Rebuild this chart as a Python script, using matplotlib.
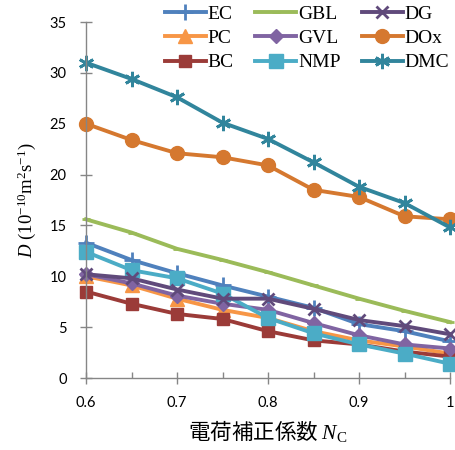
import matplotlib
matplotlib.use("Agg")
import matplotlib.pyplot as plt
from matplotlib.ticker import MultipleLocator, FixedLocator

plt.rcParams['mathtext.fontset'] = 'custom'
plt.rcParams['mathtext.rm'] = 'Liberation Serif'
plt.rcParams['mathtext.it'] = 'Liberation Serif:italic'

nc = [0.6, 0.65, 0.7, 0.75, 0.8, 0.85, 0.9, 0.95, 1.0]
names = ["EC", "PC", "BC", "GBL", "GVL", "NMP", "DG", "DOx", "DMC"]
EC  = [13.3, 11.6, 10.3, 9.1, 8.0, 6.9, 5.3, 4.6, 3.6]
PC  = [10.0, 9.1, 7.8, 6.7, 5.9, 4.6, 3.7, 3.1, 2.4]
BC  = [8.5, 7.3, 6.3, 5.8, 4.6, 3.7, 3.3, 2.6, 2.1]
GBL = [15.6, 14.3, 12.7, 11.6, 10.4, 9.1, 7.8, 6.6, 5.5]
GVL = [10.2, 9.3, 8.1, 7.3, 6.7, 5.4, 4.2, 3.3, 2.9]
NMP = [12.4, 10.6, 9.8, 8.3, 5.9, 4.4, 3.3, 2.4, 1.4]
DG  = [10.2, 9.8, 8.7, 7.8, 7.8, 6.8, 5.7, 5.1, 4.3]
DOx = [25.0, 23.4, 22.1, 21.7, 20.9, 18.5, 17.8, 15.9, 15.6]
DMC = [31.0, 29.4, 27.6, 25.1, 23.5, 21.2, 18.8, 17.2, 14.8]
series = [EC, PC, BC, GBL, GVL, NMP, DG, DOx, DMC]
xtick_labels = ["0.6", "0.7", "0.8", "0.9", "1"]

colors = ["#4F81BD", "#F79646", "#9B3B38", "#9BBB59", "#8064A2",
          "#4BACC6", "#604A7B", "#D5782F", "#31859C"]
markers = ["+", "^", "s", "_", "D", "s", "x", "o", (6, 2, 0)]
msizes = [11, 10, 9, 6, 7, 10, 9, 10, 11]

fig = plt.figure(figsize=(4.55, 4.5), dpi=100)
ax = fig.add_axes([86/455, 1-378/450, (450-86)/455, (378-22)/450])

for name, vals, c, m, ms in zip(names, series, colors, markers, msizes):
    mew = 2.0 if m in ("+", "x", (6, 2, 0), "_") else 1.0
    ax.plot(nc, vals, color=c, lw=2.8, marker=m, ms=ms, mew=mew,
            mec=c, mfc=c, label=name, clip_on=False)

ax.set_xlim(0.6, 1.0)
ax.set_ylim(0, 35)
ax.xaxis.set_major_locator(FixedLocator([0.6, 0.7, 0.8, 0.9, 1.0]))
ax.set_xticklabels(xtick_labels)
ax.xaxis.set_minor_locator(FixedLocator([0.65, 0.75, 0.85, 0.95]))
ax.yaxis.set_major_locator(MultipleLocator(5))

for s in ["top", "right"]:
    ax.spines[s].set_visible(False)
for s in ["left", "bottom"]:
    ax.spines[s].set_color("#868686")
    ax.spines[s].set_linewidth(1.0)

ax.tick_params(axis="x", which="major", direction="inout", length=8,
               color="#868686", width=1, pad=9, labelsize=10.5)
ax.tick_params(axis="x", which="minor", direction="in", length=4,
               color="#868686", width=1)
ax.tick_params(axis="y", which="major", direction="inout", length=8,
               color="#868686", width=1, pad=10, labelsize=10.5)
for lab in ax.get_xticklabels() + ax.get_yticklabels():
    lab.set_fontfamily("Lato")

ax.set_ylabel(r"$D$ (10$^{-10}$m$^{2}$s$^{-1}$)", fontfamily="Liberation Serif",
              fontsize=13.5, labelpad=8)
ax.set_xlabel(r"電荷補正係数 $N_{\mathrm{C}}$",
              fontfamily=["Noto Sans CJK JP", "DejaVu Sans"], fontsize=15.5, labelpad=6)

leg = fig.legend(loc="upper left", bbox_to_anchor=(165/455, 1-5/450),
                 ncol=3, frameon=False, borderpad=0, borderaxespad=0,
                 handlelength=2.1, handletextpad=0.1, columnspacing=1.1,
                 labelspacing=0.35, prop={"family": "Liberation Serif", "size": 14})

fig.savefig("out.png", dpi=100)
